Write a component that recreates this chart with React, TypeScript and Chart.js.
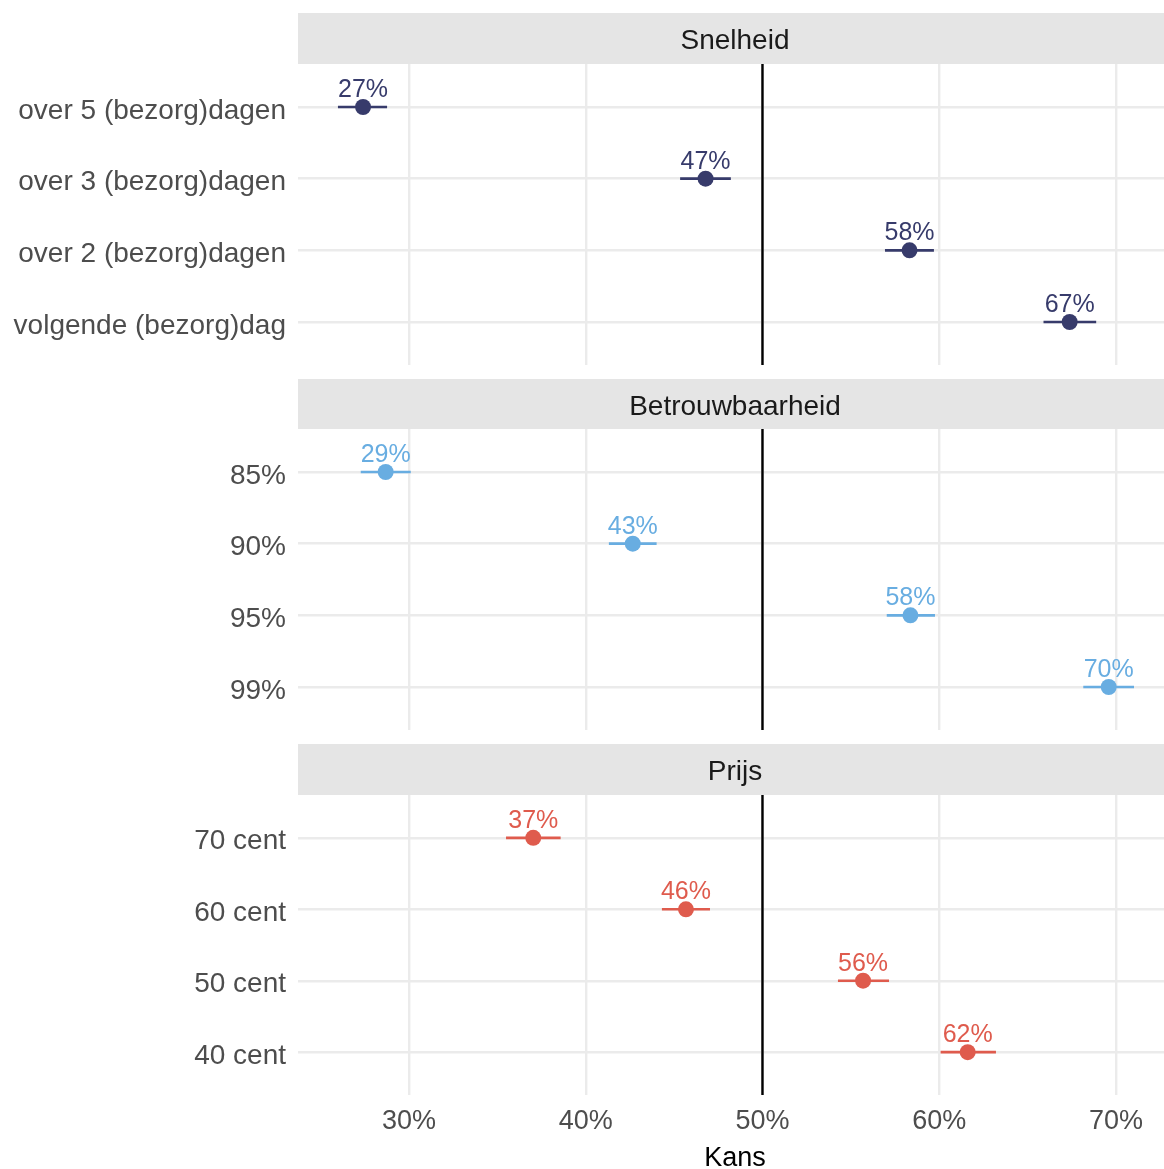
import React, { useEffect, useRef } from "react";
import { Chart, registerables } from "chart.js";

Chart.register(...registerables);

const FONT = "'Liberation Sans', Arial, Helvetica, sans-serif";

const X_TICKS = [30, 40, 50, 60, 70];
const X_MIN = 23.72;
const X_MAX = 73.17;
const REF_VALUE = 50;
const X_TITLE = "Kans";

const snelheidTitle = "Snelheid";
const snelheidCategories = ["over 5 (bezorg)dagen", "over 3 (bezorg)dagen", "over 2 (bezorg)dagen", "volgende (bezorg)dag"];
const snelheidValues = [27.4, 46.78, 58.32, 67.38];
const snelheidLow = [25.98, 45.34, 56.93, 65.9];
const snelheidHigh = [28.76, 48.21, 59.7, 68.88];

const betrouwTitle = "Betrouwbaarheid";
const betrouwCategories = ["85%", "90%", "95%", "99%"];
const betrouwValues = [28.68, 42.66, 58.37, 69.59];
const betrouwLow = [27.27, 41.31, 57.03, 68.15];
const betrouwHigh = [30.1, 44.01, 59.76, 71.02];

const prijsTitle = "Prijs";
const prijsCategories = ["70 cent", "60 cent", "50 cent", "40 cent"];
const prijsValues = [37.03, 45.67, 55.69, 61.61];
const prijsLow = [35.49, 44.31, 54.27, 60.08];
const prijsHigh = [38.58, 47.03, 57.16, 63.21];

const COLOR_SNELHEID = "#373b6b";
const COLOR_BETROUW = "#68ade1";
const COLOR_PRIJS = "#df5b4d";

const CANVAS_WIDTH = 1172;

type PanelProps = {
  title: string;
  categories: string[];
  values: number[];
  low: number[];
  high: number[];
  color: string;
  height: number;
  stripTop: number;
  areaTop: number;
  showXAxis: boolean;
};

function Panel(props: PanelProps) {
  const ref = useRef<HTMLCanvasElement | null>(null);

  useEffect(() => {
    const canvas = ref.current;
    if (!canvas) return;
    const { title, categories, values, low, high, color, stripTop, areaTop, showXAxis } = props;
    const n = categories.length;

    const pointData = values.map((v, i) => ({ x: v, y: i + 1 }));
    const errorSets = values.map((_, i) => ({
      type: "line" as const,
      data: [
        { x: low[i], y: i + 1 },
        { x: high[i], y: i + 1 },
      ],
      borderColor: color,
      borderWidth: 2.6,
      pointRadius: 0,
      pointHoverRadius: 0,
      fill: false,
      order: 1,
    }));

    const stripPlugin = {
      id: "strip",
      beforeDraw(chart: any) {
        const { ctx, chartArea } = chart;
        ctx.save();
        ctx.fillStyle = "#e5e5e5";
        ctx.fillRect(chartArea.left, stripTop, chartArea.right - chartArea.left, chartArea.top - stripTop);
        ctx.fillStyle = "#1a1a1a";
        ctx.font = `28px ${FONT}`;
        ctx.textAlign = "center";
        ctx.textBaseline = "middle";
        ctx.fillText(title, (chartArea.left + chartArea.right) / 2, (stripTop + chartArea.top) / 2 + 3);
        ctx.restore();
      },
    };

    const labelPlugin = {
      id: "pointLabels",
      afterDatasetsDraw(chart: any) {
        const { ctx } = chart;
        const meta = chart.getDatasetMeta(0);
        ctx.save();
        ctx.fillStyle = color;
        ctx.font = `25px ${FONT}`;
        ctx.textAlign = "center";
        ctx.textBaseline = "alphabetic";
        meta.data.forEach((el: any, i: number) => {
          ctx.fillText(Math.round(values[i]) + "%", el.x, el.y - 10);
        });
        ctx.restore();
      },
    };

    const chart = new Chart(canvas, {
      type: "scatter",
      data: {
        datasets: [
          {
            type: "scatter",
            data: pointData,
            backgroundColor: color,
            borderWidth: 0,
            pointRadius: 8,
            pointHoverRadius: 8,
            order: 0,
          } as any,
          ...errorSets,
          {
            type: "line",
            data: [
              { x: REF_VALUE, y: 0.4 },
              { x: REF_VALUE, y: n + 0.6 },
            ],
            borderColor: "#000000",
            borderWidth: 2.4,
            pointRadius: 0,
            pointHoverRadius: 0,
            fill: false,
            order: 2,
          },
        ],
      },
      options: {
        animation: false,
        responsive: false,
        devicePixelRatio: 1,
        layout: { autoPadding: false, padding: { top: areaTop, left: 0, right: 0, bottom: 0 } },
        plugins: {
          legend: { display: false },
          tooltip: { enabled: false },
        },
        scales: {
          x: {
            type: "linear",
            min: X_MIN,
            max: X_MAX,
            afterBuildTicks: (scale: any) => {
              scale.ticks = X_TICKS.map((v) => ({ value: v }));
            },
            afterFit: (scale: any) => {
              scale.height = showXAxis ? 74 : 0;
              scale.paddingLeft = 0;
              scale.paddingRight = 0;
              scale.paddingTop = 0;
              scale.paddingBottom = 0;
            },
            grid: { color: "#ebebeb", lineWidth: 2.4, drawTicks: false },
            border: { display: false },
            ticks: {
              display: showXAxis,
              padding: 10,
              color: "#4d4d4d",
              font: { size: 27, family: FONT },
              maxRotation: 0,
              callback: (v: any) => v + "%",
            },
            title: {
              display: showXAxis,
              text: X_TITLE,
              color: "#000000",
              font: { size: 27, family: FONT, lineHeight: 0.8 },
              padding: { top: 0, bottom: 0 },
            },
          },
          y: {
            type: "linear",
            min: 0.4,
            max: n + 0.6,
            reverse: true,
            afterBuildTicks: (scale: any) => {
              scale.ticks = categories.map((_, i) => ({ value: i + 1 }));
            },
            afterFit: (scale: any) => {
              scale.width = 298;
              scale.paddingLeft = 0;
              scale.paddingRight = 0;
              scale.paddingTop = 0;
              scale.paddingBottom = 0;
            },
            grid: { color: "#ebebeb", lineWidth: 2.4, drawTicks: false },
            border: { display: false },
            ticks: {
              padding: 12,
              color: "#4d4d4d",
              font: { size: 28, family: FONT, lineHeight: 0.28 },
              callback: (v: any) => ["", categories[Math.round(Number(v)) - 1] ?? ""],
            },
          },
        },
      },
      plugins: [stripPlugin, labelPlugin],
    } as any);

    return () => {
      chart.destroy();
    };
  }, []);

  return (
    <canvas
      ref={ref}
      width={CANVAS_WIDTH}
      height={props.height}
      style={{ display: "block", width: CANVAS_WIDTH, height: props.height }}
    />
  );
}

export default function App() {
  return (
    <div
      style={{
        position: "absolute",
        left: 0,
        top: 0,
        width: 1164,
        height: 1169,
        overflow: "hidden",
        background: "#ffffff",
      }}
    >
      <Panel
        title={snelheidTitle}
        categories={snelheidCategories}
        values={snelheidValues}
        low={snelheidLow}
        high={snelheidHigh}
        color={COLOR_SNELHEID}
        height={365}
        stripTop={13}
        areaTop={64}
        showXAxis={false}
      />
      <Panel
        title={betrouwTitle}
        categories={betrouwCategories}
        values={betrouwValues}
        low={betrouwLow}
        high={betrouwHigh}
        color={COLOR_BETROUW}
        height={365}
        stripTop={14}
        areaTop={64}
        showXAxis={false}
      />
      <Panel
        title={prijsTitle}
        categories={prijsCategories}
        values={prijsValues}
        low={prijsLow}
        high={prijsHigh}
        color={COLOR_PRIJS}
        height={439}
        stripTop={14}
        areaTop={65}
        showXAxis={true}
      />
    </div>
  );
}
